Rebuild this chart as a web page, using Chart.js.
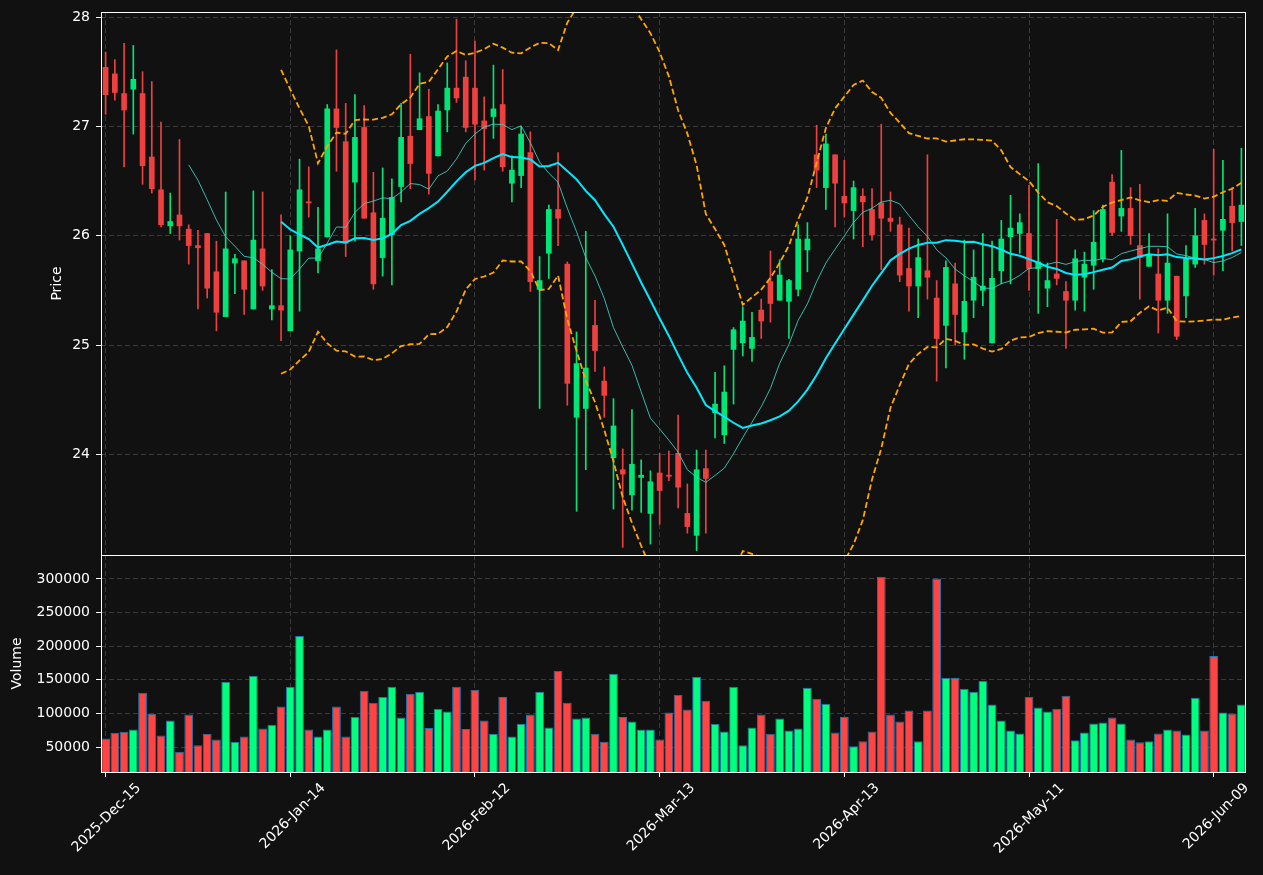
<!DOCTYPE html>
<html>
<head>
<meta charset="utf-8">
<script src="https://cdn.jsdelivr.net/npm/chart.js@4.4.1/dist/chart.umd.min.js"></script>
<style>
  html, body { margin: 0; padding: 0; background: #111111; }
  #wrap { position: relative; width: 1263px; height: 875px; background: #111111; overflow: hidden; }
  #priceChart { position: absolute; left: 0; top: 0; }
  #volumeChart { position: absolute; left: 0; top: 555px; }
</style>
</head>
<body>
<div id="wrap">
  <canvas id="priceChart" width="1263" height="556"></canvas>
  <canvas id="volumeChart" width="1263" height="320"></canvas>
</div>
<script>
// trading days (one candle each)
const dates = [
  '2025-Dec-15','2025-Dec-16','2025-Dec-17','2025-Dec-18','2025-Dec-19','2025-Dec-22','2025-Dec-23','2025-Dec-24','2025-Dec-26','2025-Dec-29','2025-Dec-30','2025-Dec-31',
  '2026-Jan-02','2026-Jan-05','2026-Jan-06','2026-Jan-07','2026-Jan-08','2026-Jan-09','2026-Jan-12','2026-Jan-13','2026-Jan-14','2026-Jan-15','2026-Jan-16','2026-Jan-20','2026-Jan-21','2026-Jan-22','2026-Jan-23','2026-Jan-26','2026-Jan-27','2026-Jan-28','2026-Jan-29','2026-Jan-30',
  '2026-Feb-02','2026-Feb-03','2026-Feb-04','2026-Feb-05','2026-Feb-06','2026-Feb-09','2026-Feb-10','2026-Feb-11','2026-Feb-12','2026-Feb-13','2026-Feb-17','2026-Feb-18','2026-Feb-19','2026-Feb-20','2026-Feb-23','2026-Feb-24','2026-Feb-25','2026-Feb-26','2026-Feb-27',
  '2026-Mar-02','2026-Mar-03','2026-Mar-04','2026-Mar-05','2026-Mar-06','2026-Mar-09','2026-Mar-10','2026-Mar-11','2026-Mar-12','2026-Mar-13','2026-Mar-16','2026-Mar-17','2026-Mar-18','2026-Mar-19','2026-Mar-20','2026-Mar-23','2026-Mar-24','2026-Mar-25','2026-Mar-26','2026-Mar-27','2026-Mar-30','2026-Mar-31',
  '2026-Apr-01','2026-Apr-02','2026-Apr-06','2026-Apr-07','2026-Apr-08','2026-Apr-09','2026-Apr-10','2026-Apr-13','2026-Apr-14','2026-Apr-15','2026-Apr-16','2026-Apr-17','2026-Apr-20','2026-Apr-21','2026-Apr-22','2026-Apr-23','2026-Apr-24','2026-Apr-27','2026-Apr-28','2026-Apr-29','2026-Apr-30',
  '2026-May-01','2026-May-04','2026-May-05','2026-May-06','2026-May-07','2026-May-08','2026-May-11','2026-May-12','2026-May-13','2026-May-14','2026-May-15','2026-May-18','2026-May-19','2026-May-20','2026-May-21','2026-May-22','2026-May-26','2026-May-27','2026-May-28','2026-May-29',
  '2026-Jun-01','2026-Jun-02','2026-Jun-03','2026-Jun-04','2026-Jun-05','2026-Jun-08','2026-Jun-09','2026-Jun-10','2026-Jun-11','2026-Jun-12'
];

const opens = [
  27.54, 27.48, 27.30, 27.34, 27.30, 26.72, 26.42, 26.09, 26.19, 26.06,
  25.91, 26.02, 25.67, 25.26, 25.75, 25.77, 25.33, 25.88, 25.33, 25.36,
  25.13, 25.86, 26.31, 25.77, 25.99, 27.16, 26.86, 26.49, 26.99, 26.21,
  25.80, 26.01, 26.45, 26.91, 26.97, 27.09, 26.73, 27.15, 27.35, 27.45,
  27.35, 27.05, 27.09, 27.20, 26.48, 26.55, 26.76, 25.51, 25.84, 26.24,
  25.74, 24.34, 24.42, 25.18, 24.67, 23.97, 23.86, 23.63, 23.79, 23.46,
  23.83, 23.81, 24.01, 23.46, 23.26, 23.87, 24.38, 24.18, 24.96, 25.02,
  24.97, 25.32, 25.58, 25.41, 25.40, 25.51, 25.87, 26.74, 26.44, 26.74,
  26.36, 26.23, 26.36, 26.24, 26.30, 26.16, 26.10, 25.70, 25.54, 25.68,
  25.43, 25.18, 25.56, 25.12, 25.41, 25.50, 25.02, 25.68, 25.99, 26.02,
  26.02, 25.70, 25.52, 25.65, 25.49, 25.41, 25.62, 25.73, 25.79, 26.49,
  26.18, 26.25, 25.91, 25.72, 25.65, 25.41, 25.63, 25.45, 25.74, 26.14,
  25.97, 26.05, 26.27, 26.13
];
const highs = [
  27.68, 27.61, 27.76, 27.74, 27.50, 27.41, 27.04, 26.39, 26.88, 26.10,
  26.05, 26.02, 25.95, 26.40, 25.83, 25.77, 26.41, 26.40, 25.69, 26.19,
  26.00, 26.70, 26.63, 26.26, 27.20, 27.70, 27.21, 27.29, 27.19, 26.58,
  26.62, 26.52, 27.21, 27.66, 27.49, 27.34, 27.20, 27.58, 27.98, 27.60,
  27.78, 27.27, 27.56, 27.52, 26.73, 27.00, 26.95, 25.81, 26.28, 26.76,
  25.76, 25.12, 26.04, 25.41, 24.80, 24.51, 24.05, 24.41, 23.95, 23.85,
  24.01, 24.03, 24.36, 23.73, 24.04, 24.04, 24.75, 24.81, 25.16, 25.35,
  25.30, 25.42, 25.86, 25.78, 25.60, 26.10, 26.12, 27.01, 26.93, 26.74,
  26.69, 26.50, 26.43, 26.43, 27.02, 26.40, 26.17, 26.07, 25.97, 26.74,
  25.59, 25.77, 25.75, 25.96, 25.87, 26.02, 25.95, 26.14, 26.37, 26.20,
  26.46, 26.66, 25.75, 26.15, 25.58, 25.87, 25.85, 26.23, 26.28, 26.56,
  26.78, 26.44, 26.47, 26.02, 25.88, 26.20, 25.63, 25.91, 26.25, 26.20,
  26.79, 26.69, 26.44, 26.80
];
const lows = [
  27.11, 27.24, 26.63, 26.93, 26.47, 26.39, 26.08, 26.02, 25.96, 25.74,
  25.33, 25.43, 25.13, 25.26, 25.47, 25.28, 25.33, 25.50, 25.23, 25.04,
  25.13, 25.31, 26.17, 25.66, 25.99, 26.59, 25.81, 25.95, 26.16, 25.51,
  25.63, 25.55, 26.31, 26.43, 26.97, 26.38, 26.73, 26.95, 27.22, 26.95,
  26.51, 26.60, 26.89, 26.59, 26.31, 26.44, 25.49, 24.42, 25.61, 25.91,
  24.45, 23.48, 23.86, 24.76, 24.34, 23.50, 23.15, 23.49, 23.47, 23.18,
  23.36, 23.76, 23.51, 23.28, 23.12, 23.28, 24.15, 24.10, 24.46, 24.90,
  24.85, 25.06, 25.21, 25.41, 25.06, 25.45, 25.67, 26.44, 26.24, 26.08,
  26.17, 25.97, 25.90, 25.96, 25.69, 26.04, 25.58, 25.31, 25.25, 25.42,
  24.67, 24.79, 25.00, 24.87, 25.25, 25.36, 25.02, 25.56, 25.56, 25.84,
  25.50, 25.29, 25.35, 25.55, 24.97, 25.32, 25.31, 25.51, 25.76, 26.00,
  26.04, 25.92, 25.42, 25.72, 25.11, 25.29, 25.05, 25.25, 25.71, 25.74,
  25.64, 25.68, 25.86, 25.91
];
const closes = [
  27.29, 27.31, 27.15, 27.43, 26.64, 26.43, 26.10, 26.13, 26.09, 25.91,
  25.89, 25.52, 25.30, 25.88, 25.79, 25.51, 25.96, 25.54, 25.36, 25.32,
  25.87, 26.42, 26.30, 25.88, 27.16, 26.99, 25.93, 26.90, 26.16, 25.56,
  26.16, 26.35, 26.90, 26.66, 27.07, 26.57, 27.14, 27.35, 27.26, 26.99,
  27.02, 26.98, 27.16, 26.63, 26.60, 26.93, 25.58, 25.59, 26.24, 26.16,
  24.65, 24.83, 24.79, 24.95, 24.54, 24.26, 23.82, 23.91, 23.81, 23.75,
  23.67, 23.80, 23.70, 23.34, 23.86, 23.78, 24.46, 24.57, 25.14, 25.22,
  25.07, 25.22, 25.38, 25.64, 25.59, 25.97, 25.97, 26.60, 26.84, 26.48,
  26.30, 26.44, 26.31, 26.01, 26.16, 26.13, 25.64, 25.54, 25.80, 25.62,
  25.06, 25.71, 25.28, 25.40, 25.62, 25.54, 25.61, 25.97, 26.07, 26.12,
  25.70, 25.76, 25.59, 25.61, 25.41, 25.79, 25.74, 25.94, 26.24, 26.03,
  26.25, 26.00, 25.80, 25.83, 25.41, 25.75, 25.08, 25.79, 26.00, 25.92,
  25.96, 26.15, 26.12, 26.28
];
const volumes = [
  62800, 71200, 72700, 76100, 130800, 99300, 67200, 89400, 43100, 98300,
  52500, 69700, 61300, 147000, 57900, 65800, 155900, 77600, 83000, 110100,
  139700, 215000, 76100, 65800, 76100, 110100, 65800, 94800, 133700, 116000,
  124400, 139700, 93800, 129300, 132300, 78100, 107100, 102700, 139700, 76600,
  135200, 89400, 69700, 124400, 65800, 84500, 98300, 132300, 79100, 163300,
  116000, 92400, 93800, 69700, 57900, 158900, 94800, 87900, 76100, 76100,
  61300, 101200, 127800, 105700, 154400, 119000, 84500, 73200, 139700, 52500,
  79100, 98300, 69700, 92400, 74600, 77600, 138200, 121900, 114500, 71700,
  94800, 51000, 58400, 73200, 303200, 98300, 87900, 104200, 58400, 104200,
  300700, 152500, 152500, 136700, 132300, 148500, 113100, 89400, 74600, 70200,
  124900, 108600, 102700, 107100, 126300, 59900, 71700, 85000, 86500, 93800,
  85000, 61300, 56900, 58400, 70200, 76100, 74600, 68700, 123400, 74600,
  185500, 101200, 99700, 113100
];

const priceTicks = [24, 25, 26, 27, 28];
const volumeTicks = [50000, 100000, 150000, 200000, 250000, 300000];
const dateTickEvery = 20;

const upCandle = '#00e676';
const downCandle = '#ef4040';
const upVol = '#00ff7f';
const downVol = '#ff4444';
const gridColor = '#3a3a3a';
const textColor = '#ffffff';

Chart.defaults.font.family = 'DejaVu Sans';
Chart.defaults.font.size = 14;
Chart.defaults.color = textColor;

// indicators are derived from the closes above
function rollingMean(values, n) {
  return values.map((_, i) => {
    if (i < n - 1) return null;
    const win = values.slice(i - n + 1, i + 1);
    return win.reduce((s, v) => s + v, 0) / n;
  });
}

function rollingStd(values, n) {
  const means = rollingMean(values, n);
  return values.map((_, i) => {
    if (means[i] === null) return null;
    const win = values.slice(i - n + 1, i + 1);
    const ss = win.reduce((s, v) => s + (v - means[i]) ** 2, 0);
    return Math.sqrt(ss / (n - 1));
  });
}

const sma10 = rollingMean(closes, 10);
const sma20 = rollingMean(closes, 20);
const std20 = rollingStd(closes, 20);
const upperBand = sma20.map((m, i) => m === null ? null : m + 2 * std20[i]);
const lowerBand = sma20.map((m, i) => m === null ? null : m - 2 * std20[i]);

const isUp = closes.map((c, i) => c >= opens[i]);
const candleColors = isUp.map(u => u ? upCandle : downCandle);
const volColors = isUp.map(u => u ? upVol : downVol);

// white box round each panel, bottom edge sits on the shared seam
const framePlugin = {
  id: 'frame',
  afterDraw(chart) {
    const { ctx, chartArea: a } = chart;
    ctx.save();
    ctx.strokeStyle = '#ffffff';
    ctx.lineWidth = 1;
    ctx.strokeRect(Math.round(a.left) + 0.5, Math.round(a.top) + 0.5,
      Math.round(a.right - a.left) - 1, Math.round(a.bottom - a.top));
    ctx.restore();
  }
};

// drop the label overhang padding so the panels keep their exact boxes
function noPad(axis) {
  axis.paddingTop = 0;
  axis.paddingBottom = 0;
  axis.paddingLeft = 0;
  axis.paddingRight = 0;
}

const dateGrid = ctx => (ctx.index % dateTickEvery === 0 ? gridColor : 'rgba(0,0,0,0)');
const dateTickMark = ctx => (ctx.index % dateTickEvery === 0 ? '#ffffff' : 'rgba(0,0,0,0)');

new Chart(document.getElementById('priceChart').getContext('2d'), {
  type: 'bar',
  data: {
    labels: dates,
    datasets: [{
      type: 'line',
      data: upperBand,
      borderColor: '#ffa500',
      borderWidth: 1.8,
      borderDash: [6, 3],
      pointRadius: 0,
      fill: false,
      order: 0
    }, {
      type: 'line',
      data: lowerBand,
      borderColor: '#ffa500',
      borderWidth: 1.8,
      borderDash: [6, 3],
      pointRadius: 0,
      fill: false,
      order: 0
    }, {
      type: 'line',
      data: sma20,
      borderColor: '#00eaff',
      borderWidth: 2,
      pointRadius: 0,
      fill: false,
      order: 0
    }, {
      type: 'line',
      data: sma10,
      borderColor: 'rgba(64,214,200,0.85)',
      borderWidth: 1,
      pointRadius: 0,
      fill: false,
      order: 0
    }, {
      data: opens.map((o, i) => [o, closes[i]]),
      backgroundColor: candleColors,
      borderWidth: 0,
      barThickness: 5,
      minBarLength: 1,
      grouped: false,
      order: 1
    }, {
      data: lows.map((l, i) => [l, highs[i]]),
      backgroundColor: candleColors,
      borderWidth: 0,
      barThickness: 1,
      grouped: false,
      order: 2
    }]
  },
  options: {
    responsive: false,
    animation: false,
    layout: { padding: { left: 0, right: 17, top: 12, bottom: 1 } },
    scales: {
      x: {
        offset: true,
        grid: { offset: false, color: dateGrid, drawTicks: false },
        border: { display: false, dash: [5, 3] },
        ticks: { display: false, autoSkip: false },
        afterFit: axis => { axis.height = 0; noPad(axis); }
      },
      y: {
        min: 23.08,
        max: 28.046,
        afterBuildTicks: axis => { axis.ticks = priceTicks.map(v => ({ value: v })); },
        afterFit: axis => { axis.width = 101; noPad(axis); },
        grid: { color: gridColor, tickColor: '#ffffff', tickLength: 5 },
        border: { display: false, dash: [5, 3] },
        ticks: { color: textColor, padding: 6, callback: v => String(v) },
        title: { display: true, text: 'Price', color: textColor, font: { size: 14 }, padding: { top: 49, bottom: 0 } }
      }
    },
    plugins: {
      legend: { display: false },
      tooltip: { enabled: false }
    }
  },
  plugins: [framePlugin]
});

new Chart(document.getElementById('volumeChart').getContext('2d'), {
  type: 'bar',
  data: {
    labels: dates,
    datasets: [{
      data: volumes,
      backgroundColor: volColors,
      borderColor: '#1f77b4',
      borderWidth: 1,
      borderSkipped: false,
      barPercentage: 0.95,
      categoryPercentage: 1
    }]
  },
  options: {
    responsive: false,
    animation: false,
    layout: { padding: { left: 0, right: 17, top: 0, bottom: 0 } },
    scales: {
      x: {
        offset: true,
        grid: { offset: false, color: dateGrid, tickColor: dateTickMark, tickLength: 5 },
        border: { display: false, dash: [5, 3] },
        ticks: {
          autoSkip: false,
          minRotation: 45,
          maxRotation: 45,
          labelOffset: 33,
          padding: 3,
          color: textColor,
          callback: (v, i) => (i % dateTickEvery === 0 ? dates[i] : '')
        },
        afterFit: axis => { axis.height = 103; noPad(axis); }
      },
      y: {
        min: 12800,
        max: 335700,
        afterBuildTicks: axis => { axis.ticks = volumeTicks.map(v => ({ value: v })); },
        afterFit: axis => { axis.width = 101; noPad(axis); },
        grid: { color: gridColor, tickColor: '#ffffff', tickLength: 5 },
        border: { display: false, dash: [5, 3] },
        ticks: { color: textColor, padding: 6, callback: v => String(v) },
        title: { display: true, text: 'Volume', color: textColor, font: { size: 14 }, padding: { top: 9, bottom: 0 } }
      }
    },
    plugins: {
      legend: { display: false },
      tooltip: { enabled: false }
    }
  },
  plugins: [framePlugin]
});
</script>
</body>
</html>
